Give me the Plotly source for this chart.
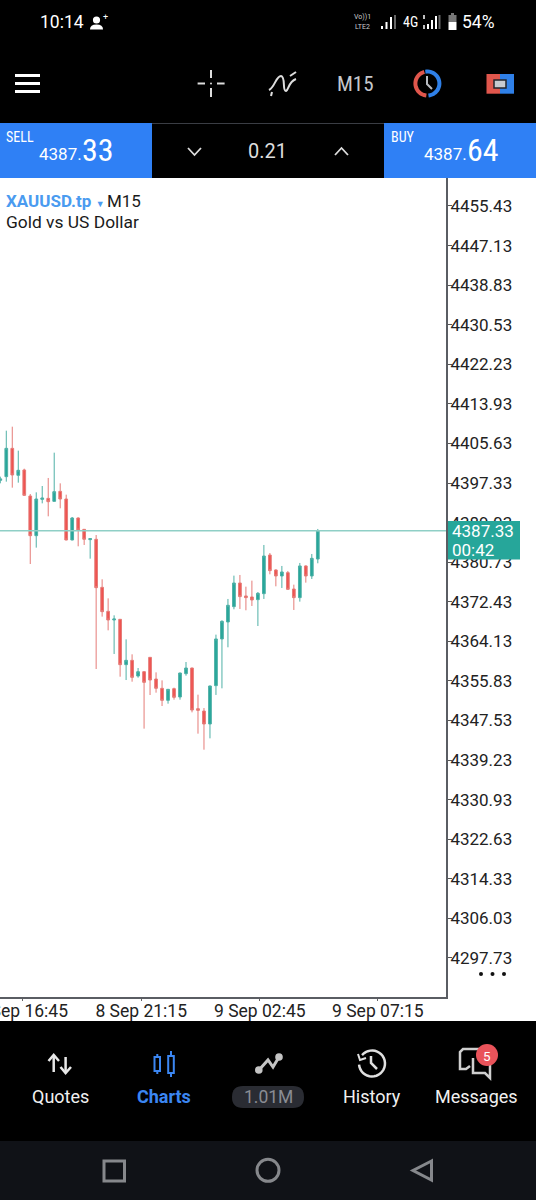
import math
import plotly.graph_objects as go

# candles, oldest first (M15)
opens = [4397.90, 4398.67, 4404.61, 4398.95, 4400.07, 4394.61, 4386.29, 4393.91, 4394.12, 4393.49,
         4395.59, 4393.98, 4385.39, 4390.00, 4387.62, 4385.46, 4385.53, 4375.46, 4370.43, 4368.61,
         4368.75, 4359.24, 4360.15, 4356.86, 4357.77, 4360.78, 4356.23, 4354.28, 4351.76, 4354.21,
         4352.46, 4357.35, 4358.54, 4350.01, 4349.52, 4346.80, 4354.84, 4364.63, 4368.19, 4371.41,
         4376.37, 4373.65, 4373.44, 4372.88, 4374.13, 4382.24, 4379.10, 4377.84, 4378.54, 4375.11,
         4373.30, 4379.94, 4377.84, 4381.40]
highs = [4398.67, 4408.31, 4409.15, 4404.12, 4400.34, 4395.03, 4395.38, 4396.71, 4398.39, 4403.70,
         4397.27, 4394.89, 4390.21, 4390.14, 4387.69, 4385.67, 4386.43, 4377.14, 4373.15, 4369.59,
         4368.82, 4364.55, 4361.41, 4358.54, 4357.91, 4360.78, 4357.63, 4355.95, 4354.14, 4354.42,
         4357.56, 4359.80, 4358.61, 4352.95, 4350.15, 4354.84, 4365.54, 4368.54, 4373.02, 4377.91,
         4378.05, 4375.60, 4376.86, 4374.48, 4384.34, 4382.66, 4379.24, 4379.94, 4378.89, 4376.02,
         4380.57, 4380.08, 4382.45, 4387.70]
lows = [4397.27, 4397.62, 4396.36, 4397.41, 4394.61, 4380.35, 4383.78, 4393.07, 4390.35, 4393.42,
        4392.03, 4385.32, 4385.32, 4384.06, 4384.34, 4381.47, 4358.33, 4369.31, 4366.44, 4361.48,
        4356.72, 4356.02, 4355.67, 4356.51, 4345.82, 4352.88, 4353.37, 4350.57, 4351.06, 4351.90,
        4351.90, 4356.93, 4349.24, 4344.77, 4341.41, 4343.79, 4352.89, 4354.28, 4362.88, 4370.85,
        4370.92, 4370.64, 4371.55, 4367.35, 4373.02, 4378.19, 4375.67, 4375.32, 4374.90, 4370.71,
        4372.46, 4376.44, 4377.21, 4380.50]
closes = [4398.20, 4404.61, 4399.02, 4400.00, 4394.75, 4386.29, 4393.98, 4394.19, 4393.42, 4395.52,
          4393.98, 4385.39, 4390.00, 4387.48, 4385.53, 4385.67, 4375.39, 4370.36, 4368.61, 4368.82,
          4359.24, 4360.15, 4356.58, 4357.77, 4355.53, 4356.02, 4354.28, 4351.76, 4354.07, 4352.39,
          4357.49, 4358.54, 4349.73, 4349.66, 4346.80, 4354.77, 4364.63, 4368.33, 4371.69, 4376.37,
          4373.51, 4373.30, 4372.81, 4374.20, 4382.03, 4378.96, 4377.84, 4378.68, 4375.04, 4373.30,
          4379.94, 4377.84, 4381.54, 4387.33]
bar_index = list(range(len(closes)))

price_ticks = [4455.43, 4447.13, 4438.83, 4430.53, 4422.23, 4413.93, 4405.63, 4397.33, 4389.03, 4380.73,
               4372.43, 4364.13, 4355.83, 4347.53, 4339.23, 4330.93, 4322.63, 4314.33, 4306.03, 4297.73]
time_ticks = [3.66, 23.52, 43.32, 63.02]
time_labels = ["8 Sep 16:45", "8 Sep 21:15", "9 Sep 02:45", "9 Sep 07:15"]

W, H = 536, 1200
UP = "#26a69a"
DOWN = "#ef5350"
BLUE = "#2f80f5"
FONT = "Roboto, sans-serif"

shapes = []
notes = []


# the phone screen is laid out in pixels, so convert to paper coords here
def X(px):
    return px / W


def Y(py):
    return 1 - py / H


def rect(x0, y0, x1, y1, fill, line=None, lw=0):
    shapes.append(dict(type="rect", xref="paper", yref="paper", x0=X(x0), x1=X(x1), y0=Y(y0), y1=Y(y1),
                       fillcolor=fill, line=dict(color=line or fill, width=lw), layer="above"))


def circle(cx, cy, r, fill="rgba(0,0,0,0)", line=None, lw=0):
    shapes.append(dict(type="circle", xref="paper", yref="paper", x0=X(cx - r), x1=X(cx + r),
                       y0=Y(cy - r), y1=Y(cy + r), fillcolor=fill,
                       line=dict(color=line or fill, width=lw), layer="above"))


def poly(pts, color, lw=2, fill="rgba(0,0,0,0)", close=False):
    d = "M " + " L ".join(f"{X(a):.5f},{Y(b):.5f}" for a, b in pts)
    if close:
        d += " Z"
    shapes.append(dict(type="path", xref="paper", yref="paper", path=d, fillcolor=fill,
                       line=dict(color=color, width=lw), layer="above"))


def arc(cx, cy, r, a0, a1, color, lw):
    # angles in degrees, clockwise from 12 o'clock
    n = 30
    pts = []
    for i in range(n + 1):
        a = math.radians(a0 + (a1 - a0) * i / n)
        pts.append((cx + r * math.sin(a), cy - r * math.cos(a)))
    poly(pts, color, lw)


def text(x, y, s, size, color="#ffffff", anchor="center", family=FONT):
    # annotations carry 2px of padding
    if anchor == "left":
        x -= 2
    elif anchor == "right":
        x += 2
    notes.append(dict(xref="paper", yref="paper", x=X(x), y=Y(y), text=s, showarrow=False, xanchor=anchor,
                      yanchor="middle", font=dict(size=size, color=color, family=family)))


def narrow(s):
    return f"<span style='font-stretch:75%'>{s}</span>"


# bars top and bottom
rect(0, 0, W, 123, "#000000")
rect(0, 123, 152, 178, BLUE)
rect(152, 123, 384, 178, "#000000")
rect(384, 123, W, 178, BLUE)
poly([(152, 123.5), (384, 123.5)], "#3a3d44", 1)
rect(0, 1021, W, 1141, "#000000")
rect(0, 1141, W, H, "#101217")

# status bar
text(61.5, 22, "10:14", 17.5)
circle(96.5, 20, 3.6, "#ffffff")
shapes.append(dict(type="path", xref="paper", yref="paper", fillcolor="#ffffff", line=dict(width=0), layer="above",
                   path=f"M {X(90)},{Y(29.5)} Q {X(90)},{Y(24.5)} {X(96.5)},{Y(24.5)} Q {X(103)},{Y(24.5)} {X(103)},{Y(29.5)} Z"))
text(105.5, 17, "+", 9)
text(362, 17.5, "Vo))1", 7, "#cccccc")
text(362, 26.5, "LTE2", 7, "#cccccc")
for bx, top, col in [(381, 26, "#fff"), (385.5, 22, "#fff"), (390, 17, "#fff"), (394, 15, "#666")]:
    rect(bx, top, bx + 2, 29, col)
text(410, 22, narrow("4G"), 14)
poly([(424, 15), (424, 19)], "#ffffff", 1.5)
poly([(424, 25), (424, 29)], "#ffffff", 1.5)
for bx, top, col in [(427, 24, "#fff"), (431, 20, "#fff"), (435, 16, "#fff"), (438.5, 15, "#666")]:
    rect(bx, top, bx + 2, 29, col)
rect(451, 13, 454, 15, "#777777")
rect(448.5, 15, 456.5, 22, "#777777")
rect(448.5, 22, 456.5, 30, "#ffffff")
text(478, 22, "54%", 17.5)

# toolbar
for hy in (75.5, 83.5, 91.5):
    poly([(15, hy), (40, hy)], "#ffffff", 3)
for seg in [[(197.6, 83.5), (205, 83.5)], [(217, 83.5), (224.6, 83.5)], [(211, 70), (211, 78)], [(211, 88), (211, 97)]]:
    poly(seg, "#dddddd", 2)
circle(211, 83.5, 1, "#dddddd")
shapes.append(dict(type="path", xref="paper", yref="paper", fillcolor="rgba(0,0,0,0)",
                   line=dict(color="#dddddd", width=2), layer="above",
                   path=f"M {X(269)},{Y(90)} C {X(275)},{Y(87)} {X(276)},{Y(76)} {X(281)},{Y(76)} "
                        f"C {X(286)},{Y(77)} {X(282)},{Y(91)} {X(286)},{Y(91)} C {X(289)},{Y(90)} {X(288)},{Y(82)} {X(296)},{Y(79)}"))
poly([(272, 92), (271, 96)], "#dddddd", 2)
poly([(290, 76), (296, 72)], "#dddddd", 2)
text(355, 83.5, narrow("M15"), 21, "#c4c7cc")
arc(427.4, 83.5, 12, 185, 345, "#e0564c", 4)
arc(427.4, 83.5, 12, -10, 175, "#2f80e8", 4)
poly([(427, 76), (427, 84), (432, 89)], "#b9bcc2", 2)
rect(486.5, 74, 500, 93.7, "#e0564c")
rect(500, 74, 514, 93.7, "#2f80e8")
rect(494, 80, 506, 88, "#c7cad0", "#22252b", 1.5)

# sell / lot / buy
text(6, 137, narrow("SELL"), 14, anchor="left")
text(82, 154, "4387.", 17, anchor="right")
text(82, 150, narrow("33"), 32, anchor="left")
poly([(188, 148), (194.5, 155), (201, 148)], "#dddddd", 1.8)
text(267, 151, "0.21", 20, "#dddddd")
poly([(335, 155), (341.5, 148), (348, 155)], "#dddddd", 1.8)
text(391, 137, narrow("BUY"), 14, anchor="left")
text(467, 154, "4387.", 17, anchor="right")
text(467, 150, narrow("64"), 32, anchor="left")

# chart captions
notes.append(dict(xref="paper", yref="paper", x=X(4), y=Y(201), showarrow=False, xanchor="left", yanchor="middle",
                  text="<b><span style='color:#4a9bf0'>XAUUSD.tp</span></b>"
                       "<span style='color:#4a9bf0;font-size:9px'>  ▼ </span>M15",
                  font=dict(size=17, color="#1a1a1a", family=FONT)))
text(6, 222, "Gold vs US Dollar", 17.4, "#1a1a1a", anchor="left")

# last price box
rect(448, 521, 520, 559.5, UP)
text(452, 531, f"{closes[-1]:.2f}", 17, anchor="left")
text(452, 550, "00:42", 17, anchor="left")
for dx in (481, 492.5, 504):
    circle(dx, 974, 2, "#111111")

# nav bar
poly([(53.7, 1072), (53.7, 1056)], "#e8e8e8", 2.5)
poly([(48.5, 1061), (53.7, 1055), (59, 1061)], "#e8e8e8", 2.5)
poly([(65.6, 1057), (65.6, 1072)], "#e8e8e8", 2.5)
poly([(60.5, 1067), (65.6, 1073), (71, 1067)], "#e8e8e8", 2.5)
text(60, 1096.7, "Quotes", 18, "#f0f0f0")

poly([(157.3, 1054), (157.3, 1074)], "#3b86f2", 2)
rect(154.5, 1057, 160, 1071, "#000000", "#3b86f2", 2)
poly([(171, 1051), (171, 1077)], "#3b86f2", 2)
rect(168.2, 1056, 173.8, 1073, "#000000", "#3b86f2", 2)
text(164, 1096.7, "<b>Charts</b>", 18, "#3b86f2")

poly([(259, 1070), (268, 1060), (273, 1067), (279, 1057)], "#c4c4c4", 3)
circle(258.8, 1070, 3.8, "#c4c4c4")
circle(279, 1057, 3.8, "#c4c4c4")
shapes.append(dict(type="path", xref="paper", yref="paper", fillcolor="#2a2c33", line=dict(width=0), layer="above",
                   path=f"M {X(243)},{Y(1086)} L {X(293)},{Y(1086)} Q {X(304)},{Y(1086)} {X(304)},{Y(1097)} "
                        f"Q {X(304)},{Y(1108)} {X(293)},{Y(1108)} L {X(243)},{Y(1108)} "
                        f"Q {X(232)},{Y(1108)} {X(232)},{Y(1097)} Q {X(232)},{Y(1086)} {X(243)},{Y(1086)} Z"))
text(268, 1097, "1.01M", 17.5, "#8a8d94")

arc(372, 1063.5, 13, -50, 265, "#e0e0e0", 2.5)
poly([(358, 1054), (360, 1060), (366, 1058)], "#e0e0e0", 2)
poly([(371, 1056), (371, 1063), (377, 1069)], "#e0e0e0", 2.5)
text(372, 1096.7, "History", 18, "#f0f0f0")

poly([(482, 1049), (463, 1049), (460, 1052), (460, 1069), (466, 1069), (470, 1066)], "#cfcfcf", 2.5)
poly([(473, 1058), (473, 1073), (485, 1073), (490, 1078), (490, 1060)], "#cfcfcf", 2.5)
circle(487, 1055, 11, "#e9535a")
text(487, 1055.5, "5", 13.5)
text(476.5, 1096.7, "Messages", 18, "#f0f0f0")

rect(104, 1161, 124.5, 1181, "rgba(0,0,0,0)", "#86888c", 3)
circle(268, 1170.3, 11, line="#86888c", lw=3)
poly([(431.5, 1161), (413, 1170.5), (431.5, 1180)], "#86888c", 3, close=True)

fig = go.Figure(go.Candlestick(
    x=bar_index, open=opens, high=highs, low=lows, close=closes,
    whiskerwidth=0,
    increasing=dict(fillcolor=UP, line=dict(color="#4fb0a6", width=1)),
    decreasing=dict(fillcolor=DOWN, line=dict(color="#e57c78", width=1)),
))

# last price line
fig.add_hline(y=closes[-1], line=dict(color="#8fcfc6", width=1.5), layer="above")

fig.update_layout(
    width=W, height=H, margin=dict(l=0, r=0, t=0, b=0, autoexpand=False), paper_bgcolor="white", plot_bgcolor="white",
    showlegend=False, boxgap=0.35,
    shapes=list(fig.layout.shapes) + shapes, annotations=notes,
    font=dict(family=FONT),
    xaxis=dict(domain=[0, 446 / W], range=[-0.05, 74.4], rangeslider=dict(visible=False),
               tickmode="array", tickvals=time_ticks, ticktext=time_labels, ticks="outside", ticklen=2,
               ticklabeloverflow="allow", ticklabelstandoff=-5, automargin=False,
               tickcolor="#666666", tickfont=dict(size=17.5, color="#222222", family=FONT),
               showgrid=False, zeroline=False, showline=True, mirror=True, linecolor="#5a5d63", linewidth=2),
    yaxis=dict(domain=[1 - 996.7 / H, 1 - 178 / H], range=[4289.61, 4461.30], side="right",
               tickmode="array", tickvals=price_ticks, tickformat=".2f", ticks="outside", ticklen=4,
               ticklabelstandoff=-5, automargin=False,
               tickcolor="#555555", tickfont=dict(size=17, color="#222222", family=FONT),
               showgrid=False, zeroline=False, showline=True, linecolor="#5a5d63", linewidth=2),
)

fig.write_html("out.html", config=dict(displayModeBar=False),
               post_script="document.body.style.margin='0';document.body.style.overflow='hidden';")
